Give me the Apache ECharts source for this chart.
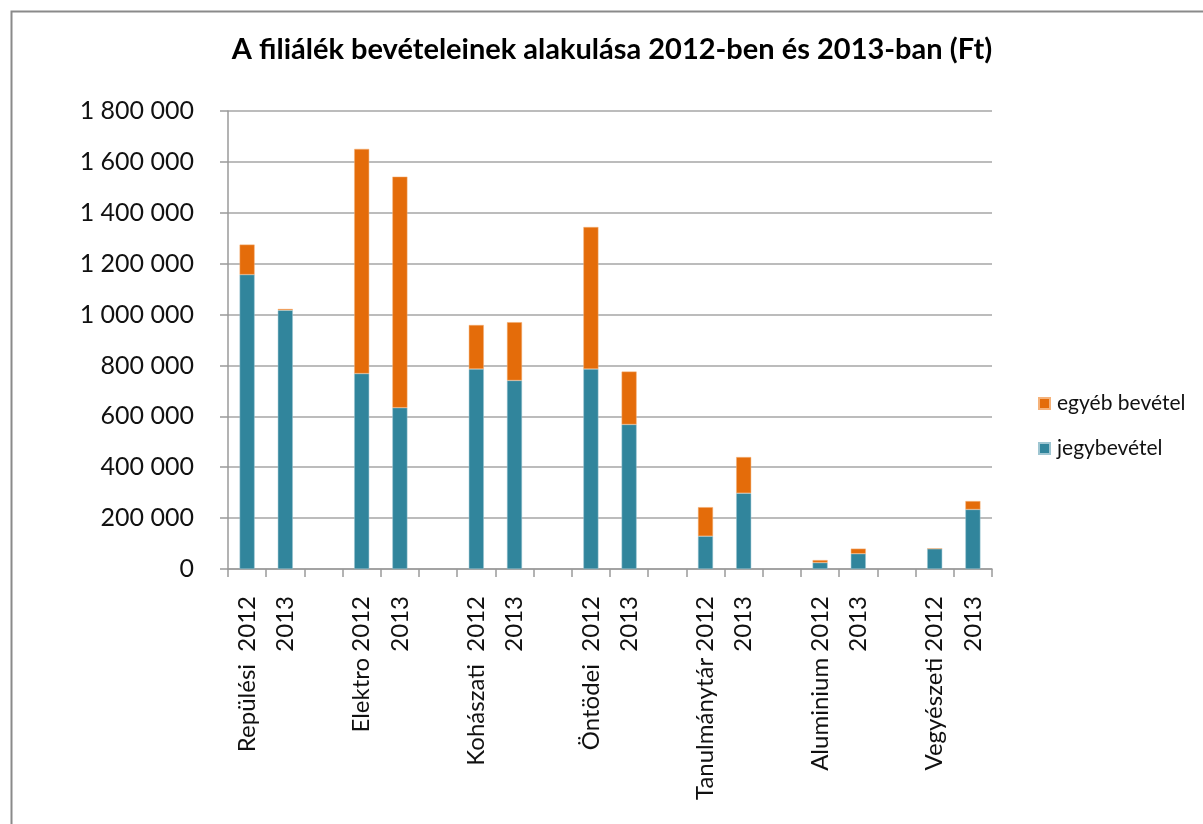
<!DOCTYPE html>
<html>
<head>
<meta charset="utf-8">
<script src="https://cdn.jsdelivr.net/npm/echarts@6/dist/echarts.min.js"></script>
<style>
html,body{margin:0;padding:0;background:#fff;}
#c{width:1203px;height:824px;}
</style>
</head>
<body>
<div id="c"></div>
<script>
const categories = ['Repülési  2012','2013','','Elektro 2012','2013','','Kohászati  2012','2013','','Öntödei  2012','2013','','Tanulmánytár 2012','2013','','Aluminium 2012','2013','','Vegyészeti 2012','2013'];
const jegybevetel = [1157000,1017000,null,768000,634000,null,786000,741000,null,786000,568000,null,129000,298000,null,25000,60000,null,80000,234000];
const egyebBevetel = [118000,5000,null,883000,908000,null,173000,229000,null,558000,208000,null,114000,142000,null,10000,20000,null,0,33000];
const seriesNames = ['egyéb bevétel','jegybevétel'];
const titleText = 'A filiálék bevételeinek alakulása 2012-ben és 2013-ban (Ft)';

const chart = echarts.init(document.getElementById('c'));
const fmt = v => String(v).replace(/\B(?=(\d{3})+(?!\d))/g, ' ');
chart.setOption({
  animation: false,
  backgroundColor: '#fff',
  textStyle: { fontFamily: 'Lato' },
  graphic: [{
    type: 'rect', left: 9, top: 9,
    shape: { width: 1400, height: 1000 },
    style: { fill: 'none', stroke: '#8a8a8a', lineWidth: 2 },
    silent: true
  }],
  title: {
    text: titleText,
    left: 607, top: 30, textAlign: 'center',
    textStyle: { fontFamily: 'Lato', fontWeight: 'bold', fontSize: 29, color: '#000' }
  },
  legend: {
    orient: 'vertical',
    left: 1033, top: 388,
    data: seriesNames,
    itemWidth: 11, itemHeight: 11, itemGap: 24,
    icon: 'rect',
    textStyle: { fontFamily: 'Lato', fontSize: 21, color: '#111', padding: [0,0,0,2] }
  },
  grid: { left: 228, right: 211, top: 111, bottom: 255, containLabel: false },
  xAxis: {
    type: 'category',
    data: categories,
    boundaryGap: true,
    axisLine: { lineStyle: { color: '#9a9a9a', width: 1.5 } },
    axisTick: { show: true, interval: 0, length: 8, lineStyle: { color: '#9a9a9a', width: 1.5 } },
    axisLabel: { interval: 0, rotate: 90, margin: 27, fontFamily: 'Lato', fontSize: 24, color: '#111' }
  },
  yAxis: {
    type: 'value',
    min: 0, max: 1800000, interval: 200000,
    axisLine: { show: true, lineStyle: { color: '#9a9a9a', width: 1.5 } },
    axisTick: { show: true, length: 8, lineStyle: { color: '#9a9a9a', width: 1.5 } },
    splitLine: { show: true, lineStyle: { color: '#a6a6a6', width: 1.5 } },
    axisLabel: { formatter: fmt, margin: 34, fontFamily: 'Lato', fontSize: 25, color: '#111' }
  },
  series: [
    { name: 'jegybevétel', type: 'bar', stack: 'total', data: jegybevetel, barWidth: 15,
      itemStyle: { color: '#31859C', borderColor: '#9fc6d2', borderWidth: 0.5 } },
    { name: 'egyéb bevétel', type: 'bar', stack: 'total', data: egyebBevetel, barWidth: 15,
      itemStyle: { color: '#E46C0A', borderColor: '#f5b27a', borderWidth: 0.5 } }
  ]
});
</script>
</body>
</html>
